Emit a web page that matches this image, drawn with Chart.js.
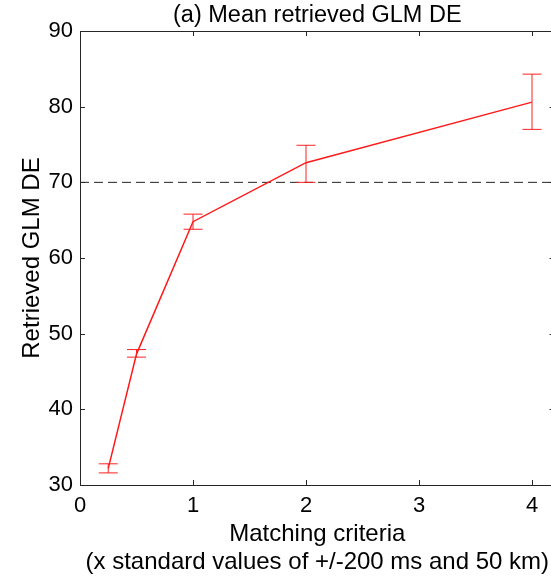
<!DOCTYPE html>
<html>
<head>
<meta charset="utf-8">
<script src="https://cdn.jsdelivr.net/npm/chart.js@4.4.1/dist/chart.umd.min.js"></script>
<style>
html,body{margin:0;padding:0;background:#fff;overflow:hidden;}
#wrap{width:560px;height:576px;position:relative;}
</style>
</head>
<body>
<div id="wrap"><canvas id="c" width="560" height="576"></canvas></div>
<script>
// ---- data ----
const criteria = [0.25, 0.5, 1, 2, 4];
const meanDE   = [32.2, 47.3, 64.8, 72.6, 80.6];
const lowerDE  = [31.6, 46.9, 63.8, 70.0, 77.0];
const upperDE  = [32.8, 47.9, 65.8, 74.9, 84.3];
const refLevel = 70;
const xTickVals = [0, 1, 2, 3, 4];
const yTickVals = [30, 40, 50, 60, 70, 80, 90];
const xMin = 0, xMax = 4.2, yMin = 30, yMax = 90;

const axisColor = '#262626';
const FONT = '"Liberation Sans", Arial, Helvetica, sans-serif';

const errorBarPlugin = {
  id: 'errorBars',
  afterDatasetsDraw(chart) {
    const {ctx, scales: {x, y}} = chart;
    ctx.save();
    ctx.strokeStyle = '#ff2020';
    ctx.lineWidth = 1;
    criteria.forEach((cx, i) => {
      const px = x.getPixelForValue(cx);
      const pLo = y.getPixelForValue(lowerDE[i]);
      const pHi = y.getPixelForValue(upperDE[i]);
      const hw = 9.5;
      ctx.beginPath();
      ctx.moveTo(px, pLo); ctx.lineTo(px, pHi);
      ctx.moveTo(px - hw, pLo); ctx.lineTo(px + hw, pLo);
      ctx.moveTo(px - hw, pHi); ctx.lineTo(px + hw, pHi);
      ctx.stroke();
    });
    ctx.restore();
  }
};

const boxPlugin = {
  id: 'boxTicks',
  afterDraw(chart) {
    const {ctx, chartArea: a, scales: {x, y}} = chart;
    ctx.save();
    ctx.strokeStyle = axisColor;
    ctx.lineWidth = 1;
    ctx.strokeRect(Math.round(a.left) + 0.5, Math.round(a.top) + 0.5,
                   Math.round(a.right - a.left), Math.round(a.bottom - a.top));
    const L = 5;
    ctx.beginPath();
    xTickVals.forEach(v => {
      const px = Math.round(x.getPixelForValue(v)) + 0.5;
      ctx.moveTo(px, a.bottom); ctx.lineTo(px, a.bottom - L);
      ctx.moveTo(px, a.top); ctx.lineTo(px, a.top + L);
    });
    yTickVals.forEach(v => {
      const py = Math.round(y.getPixelForValue(v)) + 0.5;
      ctx.moveTo(a.left, py); ctx.lineTo(a.left + L, py);
      ctx.moveTo(a.right, py); ctx.lineTo(a.right - L, py);
    });
    ctx.stroke();
    ctx.restore();
  }
};

new Chart(document.getElementById('c'), {
  type: 'line',
  data: {
    datasets: [
      {
        label: 'Mean retrieved GLM DE',
        data: criteria.map((cx, i) => ({x: cx, y: meanDE[i]})),
        borderColor: '#ff1a1a',
        borderWidth: 1.5,
        pointRadius: 0,
        tension: 0,
        fill: false
      },
      {
        label: 'reference',
        data: [{x: xMin, y: refLevel}, {x: xMax, y: refLevel}],
        borderColor: '#222',
        borderWidth: 1,
        borderDash: [9, 5],
        pointRadius: 0,
        fill: false
      }
    ]
  },
  options: {
    responsive: false,
    animation: false,
    devicePixelRatio: 1,
    layout: {padding: {left: 0, right: 5.4, top: 0, bottom: 0}},
    plugins: {
      legend: {display: false},
      tooltip: {enabled: false},
      title: {
        display: true,
        fullSize: false,
        text: '(a) Mean retrieved GLM DE',
        color: '#000',
        font: {family: FONT, size: 23.5, weight: 'normal', lineHeight: 1.15},
        padding: {top: 2, bottom: 2}
      }
    },
    scales: {
      x: {
        type: 'linear',
        min: xMin, max: xMax,
        grid: {display: false, drawTicks: false, tickLength: 0},
        border: {display: false},
        afterBuildTicks(s) { s.ticks = xTickVals.map(v => ({value: v})); },
        afterFit(s) { s.height = 91; },
        ticks: {
          color: '#000',
          font: {family: FONT, size: 22},
          padding: 8,
          maxRotation: 0,
          autoSkip: false
        },
        title: {
          display: true,
          text: ['Matching criteria', '(x standard values of +/-200 ms and 50 km)'],
          color: '#000',
          font: {family: FONT, size: 24, lineHeight: 1.17},
          padding: {top: 0, bottom: 0}
        }
      },
      y: {
        type: 'linear',
        min: yMin, max: yMax,
        grid: {display: false, drawTicks: false, tickLength: 0},
        border: {display: false},
        afterBuildTicks(s) { s.ticks = yTickVals.map(v => ({value: v})); },
        afterFit(s) { s.width = 80; },
        ticks: {
          color: '#000',
          font: {family: FONT, size: 22},
          padding: 7
        },
        title: {
          display: true,
          text: 'Retrieved GLM DE',
          color: '#000',
          font: {family: FONT, size: 24, lineHeight: 1.2},
          padding: {top: 18, bottom: 0}
        }
      }
    }
  },
  plugins: [errorBarPlugin, boxPlugin]
});
</script>
</body>
</html>
